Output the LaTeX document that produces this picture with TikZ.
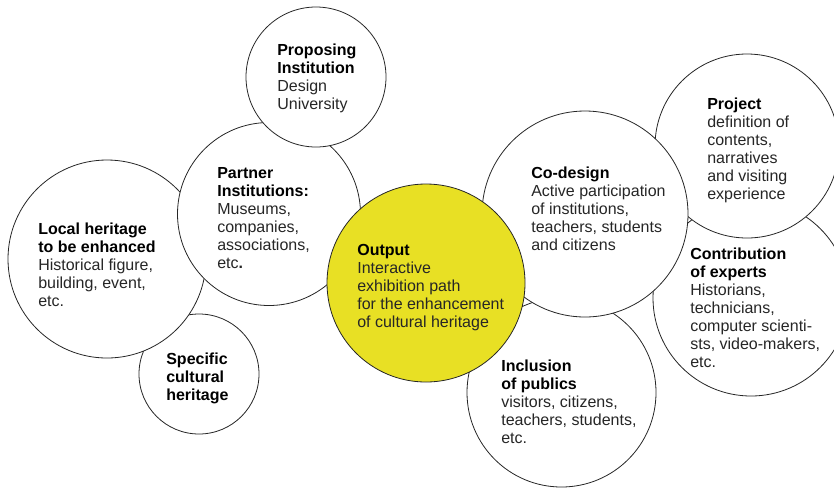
\documentclass[tikz,border=0pt]{standalone}
\usepackage{fontspec}
\setmainfont{Liberation Sans}
\usepackage{tikz}
\usetikzlibrary{positioning, calc}
\definecolor{outputyellow}{HTML}{E8E024}
\definecolor{bodygray}{HTML}{262626}

\begin{document}
\begin{tikzpicture}
            [x=1pt, y=-1pt, semithick,
            bubble/.style={circle, draw=black!85, line width=0.8pt, fill=white, inner sep=0pt},
            bubbletext/.style={anchor=north west, inner sep=0pt, align=left, text=bodygray,
                font=\fontsize{16}{18}\selectfont}]
            \useasboundingbox (0,0) rectangle (834,488);
            % circles drawn from back to front
            \node[bubble, minimum size=196pt]   (contrib)   at (751,298) {};
            \node[bubbletext]                    (contribT)  at (690,248)
            {\textbf{\color{black}Contribution} \\ \textbf{\color{black}of experts} \\
                Historians, \\ technicians, \\ computer scienti- \\ sts, video-makers, \\ etc.};
            \node[bubble, minimum size=184pt]   (project)   at (747,146) {};
            \node[bubbletext]                    (projectT)  at (707,98)
            {\textbf{\color{black}Project} \\ definition of \\ contents, \\ narratives \\
                and visiting \\ experience};
            \node[bubble, minimum size=189pt]   (inclusion) at (561.5,392.5) {};
            \node[bubbletext]                    (inclusionT) at (501,360)
            {\textbf{\color{black}Inclusion} \\ \textbf{\color{black}of publics} \\
                visitors, citizens, \\ teachers, students, \\ etc.};
            \node[bubble, minimum size=206pt]   (codesign)  at (585,214) {};
            \node[bubbletext]                    (codesignT) at (531,167)
            {\textbf{\color{black}Co-design} \\ Active participation \\ of institutions, \\
                teachers, students \\ and citizens};
            \node[bubble, minimum size=120pt]   (specific)  at (199,374) {};
            \node[bubbletext]                    (specificT) at (166,353)
            {\textbf{\color{black}Specific} \\ \textbf{\color{black}cultural} \\ \textbf{\color{black}heritage}};
            \node[bubble, minimum size=198pt]   (local)     at (107,259) {};
            \node[bubbletext]                    (localT)    at (38,223)
            {\textbf{\color{black}Local heritage} \\ \textbf{\color{black}to be enhanced} \\
                Historical figure, \\ building, event, \\ etc.};
            \node[bubble, minimum size=183pt]   (partner)   at (269,214) {};
            \node[bubbletext]                    (partnerT)  at (217,167)
            {\textbf{\color{black}Partner} \\ \textbf{\color{black}Institutions:} \\ Museums, \\
                companies, \\ associations, \\ etc\textbf{.}};
            \node[bubble, minimum size=140pt]   (proposing) at (316,77) {};
            \node[bubbletext]                    (proposingT) at (277,44)
            {\textbf{\color{black}Proposing} \\ \textbf{\color{black}Institution} \\ Design \\ University};
            \node[bubble, fill=outputyellow, minimum size=198pt] (output) at (426,283) {};
            \node[bubbletext]                    (outputT)   at (357,244)
            {\textbf{\color{black}Output} \\ Interactive \\ exhibition path \\
                for the enhancement \\ of cultural heritage};
        \end{tikzpicture}
\end{document}
